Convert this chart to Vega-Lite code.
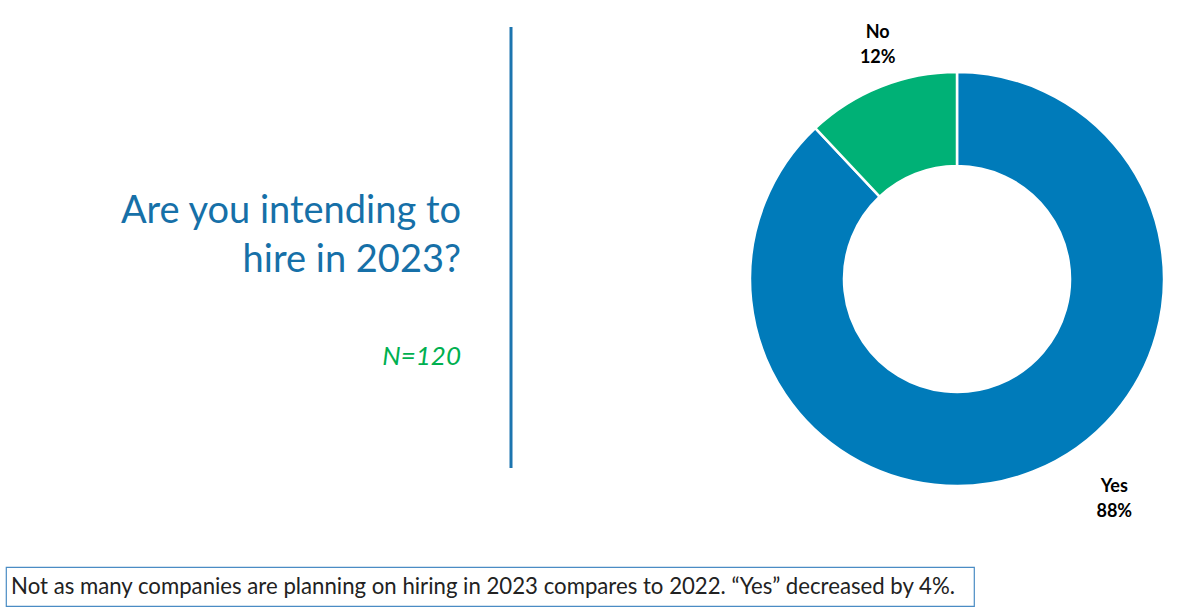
{
  "$schema": "https://vega.github.io/schema/vega-lite/v6.json",
  "padding": {"top": 16, "left": 5, "right": 14, "bottom": 8},
  "background": "white",
  "config": {"view": {"stroke": null}, "font": "Lato"},
  "spacing": 28,
  "vconcat": [
    {
      "bounds": "flush",
      "spacing": 216,
      "hconcat": [
        {
          "width": 505,
          "height": 448,
          "layer": [
            {
              "data": {"values": [{"divider": "line"}]},
              "mark": {"type": "rule", "color": "#1C75AF", "strokeWidth": 3},
              "encoding": {
                "x": {"value": "width"},
                "y": {"datum": -3, "type": "quantitative", "scale": {"domain": [-3.143, 6], "reverse": true}, "axis": null},
                "y2": {"datum": 6}
              }
            },
            {
              "data": {"values": [
                {"text": "Are you intending to", "line": 1},
                {"text": "hire in 2023?", "line": 2}
              ]},
              "mark": {"type": "text", "align": "right", "baseline": "alphabetic", "dx": -50, "fontSize": 38, "font": "Lato", "color": "#1670A8"},
              "encoding": {
                "x": {"value": "width"},
                "y": {"field": "line", "type": "quantitative", "scale": {"domain": [-3.143, 6], "reverse": true}, "axis": null},
                "text": {"field": "text"}
              }
            },
            {
              "data": {"values": [{"text": "N=120", "line": 4}]},
              "mark": {"type": "text", "align": "right", "baseline": "alphabetic", "dx": -50, "dy": -5, "fontSize": 26, "font": "Lato", "fontStyle": "italic", "color": "#00B050"},
              "encoding": {
                "x": {"value": "width"},
                "y": {"field": "line", "type": "quantitative", "scale": {"domain": [-3.143, 6], "reverse": true}, "axis": null},
                "text": {"field": "text"}
              }
            }
          ]
        },
        {
          "width": 460,
          "height": 518,
          "data": {"values": [
            {"answer": "Yes", "pct": 88, "label": "Yes\n88%"},
            {"answer": "No", "pct": 12, "label": "No\n12%"}
          ]},
          "encoding": {
            "theta": {"field": "pct", "type": "quantitative", "stack": true},
            "order": {"field": "pct", "sort": "descending"}
          },
          "layer": [
            {
              "mark": {"type": "arc", "outerRadius": 207, "innerRadius": 113, "stroke": "white", "strokeWidth": 2.5},
              "encoding": {
                "color": {"field": "answer", "type": "nominal", "scale": {"domain": ["Yes", "No"], "range": ["#007BBA", "#00B176"]}, "legend": null}
              }
            },
            {
              "mark": {"type": "text", "radius": 248, "fontWeight": "bold", "fontSize": 18, "font": "Lato", "lineBreak": "\n", "lineHeight": 25, "dx": 12, "dy": -15, "color": "#000000"},
              "encoding": {
                "text": {"condition": {"test": "datum.answer === 'No'", "field": "label"}, "value": ""}
              }
            },
            {
              "mark": {"type": "text", "radius": 248, "fontWeight": "bold", "fontSize": 18, "font": "Lato", "lineBreak": "\n", "lineHeight": 25, "dx": 66, "dy": -23, "color": "#000000"},
              "encoding": {
                "text": {"condition": {"test": "datum.answer === 'Yes'", "field": "label"}, "value": ""}
              }
            }
          ]
        }
      ]
    },
    {
      "width": 968,
      "height": 39,
      "view": {"stroke": "#4A8CC4", "strokeWidth": 1.2},
      "data": {"values": [{"note": "Not as many companies are planning on hiring in 2023 compares to 2022. “Yes” decreased by 4%."}]},
      "mark": {"type": "text", "fontSize": 22.2, "font": "Lato", "color": "#222222", "dx": -7, "baseline": "middle"},
      "encoding": {"text": {"field": "note"}}
    }
  ]
}
